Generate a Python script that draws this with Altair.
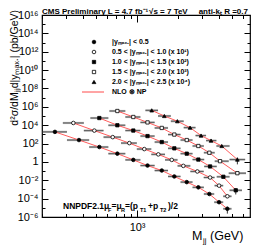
import altair as alt
import numpy as np
import pandas as pd

# ---------------- data ----------------
series_labels = [
    "|yₘₐₓ.| < 0.5",
    "0.5 < |yₘₐₓ.| < 1.0 (x 10¹)",
    "1.0 < |yₘₐₓ.| < 1.5 (x 10²)",
    "1.5 < |yₘₐₓ.| < 2.0 (x 10³)",
    "2.0 < |yₘₐₓ.| < 2.5 (x 10⁴)",
]
scale_factors = [1, 10, 100, 1000, 10000]

mjj_0 = [249, 374, 528, 716, 938, 1193, 1518, 1878, 2317, 2820, 3398, 4004, 4608]
xsec_0 = [1860, 240, 41.7, 7.9, 1.66, 0.40, 0.115, 0.026, 6.3e-3, 1.7e-3, 3.2e-4, 4.1e-5, 7.8e-6]
err_0 = [0.03, 0.03, 0.03, 0.03, 0.03, 0.03, 0.03, 0.03, 0.03, 0.03, 0.05, 0.15, 0.7]

mjj_1 = [340, 485, 662, 877, 1130, 1432, 1798, 2188, 2773, 3439, 4004, 4608]
xsec_1 = [1740, 257, 50, 11.2, 2.5, 0.66, 0.166, 0.037, 9.1e-3, 2.0e-3, 2.6e-4, 1.8e-5]
err_1 = [0.03, 0.03, 0.03, 0.03, 0.03, 0.03, 0.03, 0.03, 0.03, 0.05, 0.1, 0.3]

mjj_2 = [528, 716, 938, 1193, 1518, 1878, 2317, 2820, 3439, 4307, 5313]
xsec_2 = [600, 98, 26, 6.5, 1.45, 0.30, 0.079, 0.018, 3.2e-3, 2.4e-4, 8.1e-6]
err_2 = [0.03, 0.03, 0.03, 0.03, 0.03, 0.03, 0.03, 0.03, 0.05, 0.1, 0.65]

mjj_3 = [716, 938, 1193, 1518, 1878, 2317, 2820, 3398, 4072, 5458]
xsec_3 = [350, 78, 20, 5.0, 0.95, 0.24, 0.054, 0.010, 1.2e-3, 5.9e-5]
err_3 = [0.03, 0.03, 0.03, 0.03, 0.03, 0.03, 0.03, 0.05, 0.1, 0.25]

mjj_4 = [1281, 1586, 1977, 2450, 2952, 3497, 4191, 5458]
xsec_4 = [41, 10, 2.7, 0.54, 0.074, 0.021, 5.4e-3, 1.8e-4]
err_4 = [0.03, 0.03, 0.03, 0.03, 0.05, 0.05, 0.1, 0.7]

mjj_all = [mjj_0, mjj_1, mjj_2, mjj_3, mjj_4]
xsec_all = [xsec_0, xsec_1, xsec_2, xsec_3, xsec_4]
err_all = [err_0, err_1, err_2, err_3, err_4]

y_tick_exps = list(range(-6, 17))
x_minor = [200, 300, 400, 500, 600, 700, 800, 900, 2000, 3000, 4000, 5000, 6000]

# ---------------- styling ----------------
W, H = 208, 202
FONT = "Liberation Sans"
shapes = ["circle", "circle", "square", "square", "triangle-up"]
fills = ["black", "white", "black", "white", "black"]
sizes = [13, 13, 11, 11, 14]
RED = "#ff4a4a"

rows = []
for i, (m, s, e) in enumerate(zip(mjj_all, xsec_all, err_all)):
    m = np.array(m, float)
    v = np.array(s, float) * scale_factors[i]
    e = np.array(e, float)
    lm = np.log10(m)
    mids = (lm[1:] + lm[:-1]) / 2
    lo = np.concatenate([[lm[0] - (mids[0] - lm[0])], mids])
    hi = np.concatenate([mids, [lm[-1] + (lm[-1] - mids[-1])]])
    for j in range(len(m)):
        rows.append(dict(series=i, M=m[j], val=v[j], mlo=10 ** lo[j], mhi=10 ** hi[j],
                         vlo=v[j] * (1 - e[j]), vhi=v[j] * (1 + e[j])))
df = pd.DataFrame(rows)

xsc = alt.Scale(type="log", domain=[200, 6760], nice=False)
ysc = alt.Scale(type="log", domain=[1e-6, 1e16], nice=False)

sup = str.maketrans("-0123456789", "⁻⁰¹²³⁴⁵⁶⁷⁸⁹")
parts = []
for ex in range(-6, 17, 2):
    lab = "1" if ex == 0 else "10" + str(ex).translate(sup)
    parts.append(f"round(log(datum.value)/LN10) == {ex} ? '{lab}' : ")
y_label_expr = "".join(parts) + "''"

xax = alt.Axis(values=[1000], labelExpr="'10³'", ticks=False, domain=False, grid=False,
               labelFont=FONT, labelFontSize=11, labelPadding=4, labelColor="black", title=None)
yax = alt.Axis(values=[10.0 ** k for k in range(-6, 17, 2)], labelExpr=y_label_expr, ticks=False,
               domain=False, grid=False, labelFont=FONT, labelFontSize=11, labelPadding=4,
               labelColor="black", title=None)

base = alt.Chart(df)
X = alt.X("M:Q", scale=xsc, axis=xax)
Y = alt.Y("val:Q", scale=ysc, axis=yax)

gray_bars = base.mark_rule(color="#b4b4b4", strokeWidth=2.2).encode(
    x=alt.X("mlo:Q", scale=xsc, axis=xax), x2="mhi:Q", y=Y)
black_bars = base.mark_rule(color="#222222", strokeWidth=0.6).encode(
    x=alt.X("mlo:Q", scale=xsc, axis=xax), x2="mhi:Q", y=Y)
vbars = base.mark_rule(color="black", strokeWidth=0.8).encode(
    x=X, y=alt.Y("vlo:Q", scale=ysc, axis=yax), y2="vhi:Q")
lines = base.mark_line(color=RED, strokeWidth=1, opacity=0.9).encode(
    x=X, y=Y, detail="series:N", order="M:Q")

markers = []
for i in range(5):
    markers.append(
        base.transform_filter(alt.datum.series == i)
        .mark_point(shape=shapes[i], filled=True, fill=fills[i], stroke="black",
                    strokeWidth=0.8, size=sizes[i], opacity=1)
        .encode(x=X, y=Y)
    )

one = pd.DataFrame({"k": [0]})


def txt(s, x, y, size, bold=False, align="left", baseline="alphabetic", angle=0):
    kw = dict(text=s, font=FONT, fontSize=size, fontWeight="bold" if bold else "normal",
              align=align, baseline=baseline, color="black")
    if angle:
        kw["angle"] = angle
    return alt.Chart(one).mark_text(**kw).encode(x=alt.value(x), y=alt.value(y))


texts = []
# legend
for i in range(5):
    yy = 27 + 10 * i
    texts.append(alt.Chart(one).mark_point(shape=shapes[i], filled=True, fill=fills[i], stroke="black",
                                           strokeWidth=0.8, size=sizes[i], opacity=1)
                 .encode(x=alt.value(52), y=alt.value(yy)))
    texts.append(txt(series_labels[i], 70, yy, 7, bold=True, baseline="middle"))
texts.append(alt.Chart(one).mark_rule(color=RED, strokeWidth=1)
             .encode(x=alt.value(40), x2=alt.value(62), y=alt.value(77)))
texts.append(txt("NLO ⊗ NP", 70, 77, 7, bold=True, baseline="middle"))

# header
texts.append(txt("CMS Preliminary L = 4.7 fb⁻¹", 0, -0.8, 8, bold=True))
texts.append(txt("√s = 7 TeV", 107, -0.8, 8, bold=True))
texts.append(txt("anti-kₜ R =0.7", 206, -0.8, 8, bold=True, align="right"))

# PDF / scale annotation
nn = [("NNPDF2.1μ", 21, 8.5, 0), ("F", 66, 5.5, 3), ("=μ", 69.5, 8.5, 0), ("R", 79, 5.5, 3),
      ("=(p", 83, 8.5, 0), ("T1", 98, 5.5, 3), ("+p", 106, 8.5, 0), ("T2", 118, 5.5, 3),
      (")/2", 126, 8.5, 0)]
for s, x, fs, dy in nn:
    texts.append(txt(s, x, 194 + dy, fs, bold=True))

# axis titles
texts.append(txt("M", 150, 225, 12.5))
texts.append(txt("jj", 161, 228, 7.5))
texts.append(txt("(GeV)", 168, 225, 12.5))
texts.append(txt("d²σ/dMⱼⱼd|yₘₐₓ.| (pb/GeV)", -27.5, -5, 10.5, align="right", baseline="middle", angle=270))

main = alt.layer(gray_bars, black_bars, lines, vbars, *markers, *texts)

# inward tick axes (ROOT style), drawn with separate independent scales
tick_vals_y = [10.0 ** k for k in y_tick_exps]
tick_vals_x = x_minor + [1000]
ysize = {"condition": {"test": "round(log(datum.value)/LN10) % 2 == 0", "value": 6}, "value": 3}
xsize = {"condition": {"test": "datum.value == 1000", "value": 7}, "value": 3.5}

ticks_a = base.mark_point(opacity=0).encode(
    x=alt.X("M:Q", scale=xsc, axis=alt.Axis(orient="top", offset=-H, values=tick_vals_x, labels=False,
                                             domain=False, grid=False, tickSize=xsize, tickColor="black",
                                             tickWidth=1, title=None)),
    y=alt.Y("val:Q", scale=ysc, axis=alt.Axis(orient="right", offset=-W, values=tick_vals_y, labels=False,
                                               domain=False, grid=False, tickSize=ysize, tickColor="black",
                                               tickWidth=1, title=None)),
)
ticks_b = base.mark_point(opacity=0).encode(
    x=alt.X("M:Q", scale=xsc, axis=alt.Axis(orient="bottom", offset=-H, values=tick_vals_x, labels=False,
                                             domain=False, grid=False, tickSize=xsize, tickColor="black",
                                             tickWidth=1, title=None)),
    y=alt.Y("val:Q", scale=ysc, axis=alt.Axis(orient="left", offset=-W, values=tick_vals_y, labels=False,
                                               domain=False, grid=False, tickSize=ysize, tickColor="black",
                                               tickWidth=1, title=None)),
)

chart = (
    alt.layer(main, ticks_a, ticks_b)
    .resolve_scale(x="independent", y="independent")
    .properties(width=W, height=H, autosize="none",
                padding={"left": 34, "top": 7, "right": 2, "bottom": 30}, background="white")
    .configure_view(stroke="black", strokeWidth=1.2)
)

chart.save("out.html", embed_options={"renderer": "svg", "actions": False})
